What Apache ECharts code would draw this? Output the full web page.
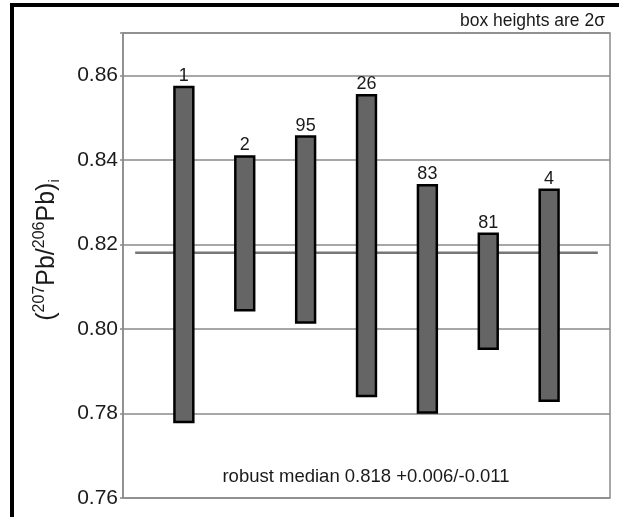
<!DOCTYPE html>
<html>
<head>
<meta charset="utf-8">
<script src="https://cdn.jsdelivr.net/npm/echarts@6/dist/echarts.min.js"></script>
<style>
html,body{margin:0;padding:0;background:#fff;}
#c{width:619px;height:517px;}
</style>
</head>
<body>
<div id="c"></div>
<script>
// Data
const labels = ['1', '2', '95', '26', '83', '81', '4'];
const positions = [1, 2, 3, 4, 5, 6, 7];
const boxTop = [0.8572, 0.8408, 0.8455, 0.8553, 0.8340, 0.8225, 0.8329];
const boxBottom = [0.7780, 0.8044, 0.8015, 0.7841, 0.7802, 0.7953, 0.7830];
const medianValue = 0.818;
const medianSpan = [0.2, 7.8];
const yTicks = [0.76, 0.78, 0.80, 0.82, 0.84, 0.86];

const boxData = positions.map((p, i) => [p, boxBottom[i], boxTop[i], labels[i]]);

const chart = echarts.init(document.getElementById('c'), null, {renderer: 'canvas'});
const FONT = 'Liberation Sans, Arial, sans-serif';
const GRAY = '#8a8a8a';
const INK = '#1a1a1a';

chart.setOption({
  animation: false,
  backgroundColor: '#fff',
  grid: {left: 123, right: 9, top: 33, bottom: 19, show: true, borderColor: GRAY, borderWidth: 1.5, backgroundColor: 'transparent'},
  xAxis: {
    type: 'value', min: 0, max: 8,
    axisLine: {show: false}, axisTick: {show: false}, axisLabel: {show: false}, splitLine: {show: false}
  },
  yAxis: {
    type: 'value', min: 0.76, max: 0.87, interval: 0.02,
    axisLine: {show: true, lineStyle: {color: GRAY, width: 1.5}},
    axisTick: {show: true, length: 3, lineStyle: {color: GRAY, width: 1.5}},
    splitLine: {show: true, lineStyle: {color: GRAY, width: 1.5}},
    axisLabel: {
      margin: 5, color: INK, fontFamily: FONT, fontSize: 21,
      formatter: v => {
        const r = Math.round(v * 100) / 100;
        return yTicks.some(t => Math.abs(t - r) < 1e-9) && Math.abs(v - r) < 1e-6 ? r.toFixed(2) : '';
      }
    }
  },
  graphic: [
    {type: 'line', shape: {x1: 12, y1: 3, x2: 12, y2: 517}, style: {stroke: '#000', lineWidth: 4}, z: 100},
    {type: 'line', shape: {x1: 10, y1: 5, x2: 619, y2: 5}, style: {stroke: '#000', lineWidth: 4}, z: 100},
    {type: 'text', x: 605, y: 21, style: {text: 'box heights are 2σ', align: 'right', verticalAlign: 'middle', fontFamily: FONT, fontSize: 17.5, fill: INK}},
    {type: 'text', x: 366, y: 477, style: {text: 'robust median 0.818 +0.006/-0.011', align: 'center', verticalAlign: 'middle', fontFamily: FONT, fontSize: 18.5, fill: INK}},
    {type: 'text', x: 47, y: 250, rotation: Math.PI / 2,
      style: {
        text: '{p|(}{s|207}{p|Pb/}{s|206}{p|Pb)}{b|i}',
        align: 'center', verticalAlign: 'middle', fill: INK,
        rich: {
          p: {fontFamily: FONT, fontSize: 25, lineHeight: 30, fill: INK},
          s: {fontFamily: FONT, fontSize: 16, lineHeight: 16, verticalAlign: 'top', fill: INK},
          b: {fontFamily: FONT, fontSize: 15, lineHeight: 15, verticalAlign: 'bottom', fill: INK}
        }
      }
    }
  ],
  series: [
    {
      type: 'line', data: [[medianSpan[0], medianValue], [medianSpan[1], medianValue]],
      symbol: 'none', lineStyle: {color: '#777', width: 2.5}, z: 2, silent: true
    },
    {
      type: 'custom', z: 5,
      data: boxData,
      encode: {x: 0, y: [1, 2]},
      renderItem: function (params, api) {
        const x = api.value(0);
        const lo = api.coord([x, api.value(1)]);
        const hi = api.coord([x, api.value(2)]);
        const w = api.size([1, 0])[0] * 0.31;
        return {
          type: 'group',
          children: [
            {type: 'rect', shape: {x: lo[0] - w / 2, y: hi[1], width: w, height: lo[1] - hi[1]},
              style: {fill: '#656565', stroke: '#000', lineWidth: 2.5}},
            {type: 'text', x: hi[0], y: hi[1] - 2,
              style: {text: api.value(3) + '', align: 'center', verticalAlign: 'bottom', fontFamily: FONT, fontSize: 18, fill: INK}}
          ]
        };
      }
    }
  ]
});
</script>
</body>
</html>
